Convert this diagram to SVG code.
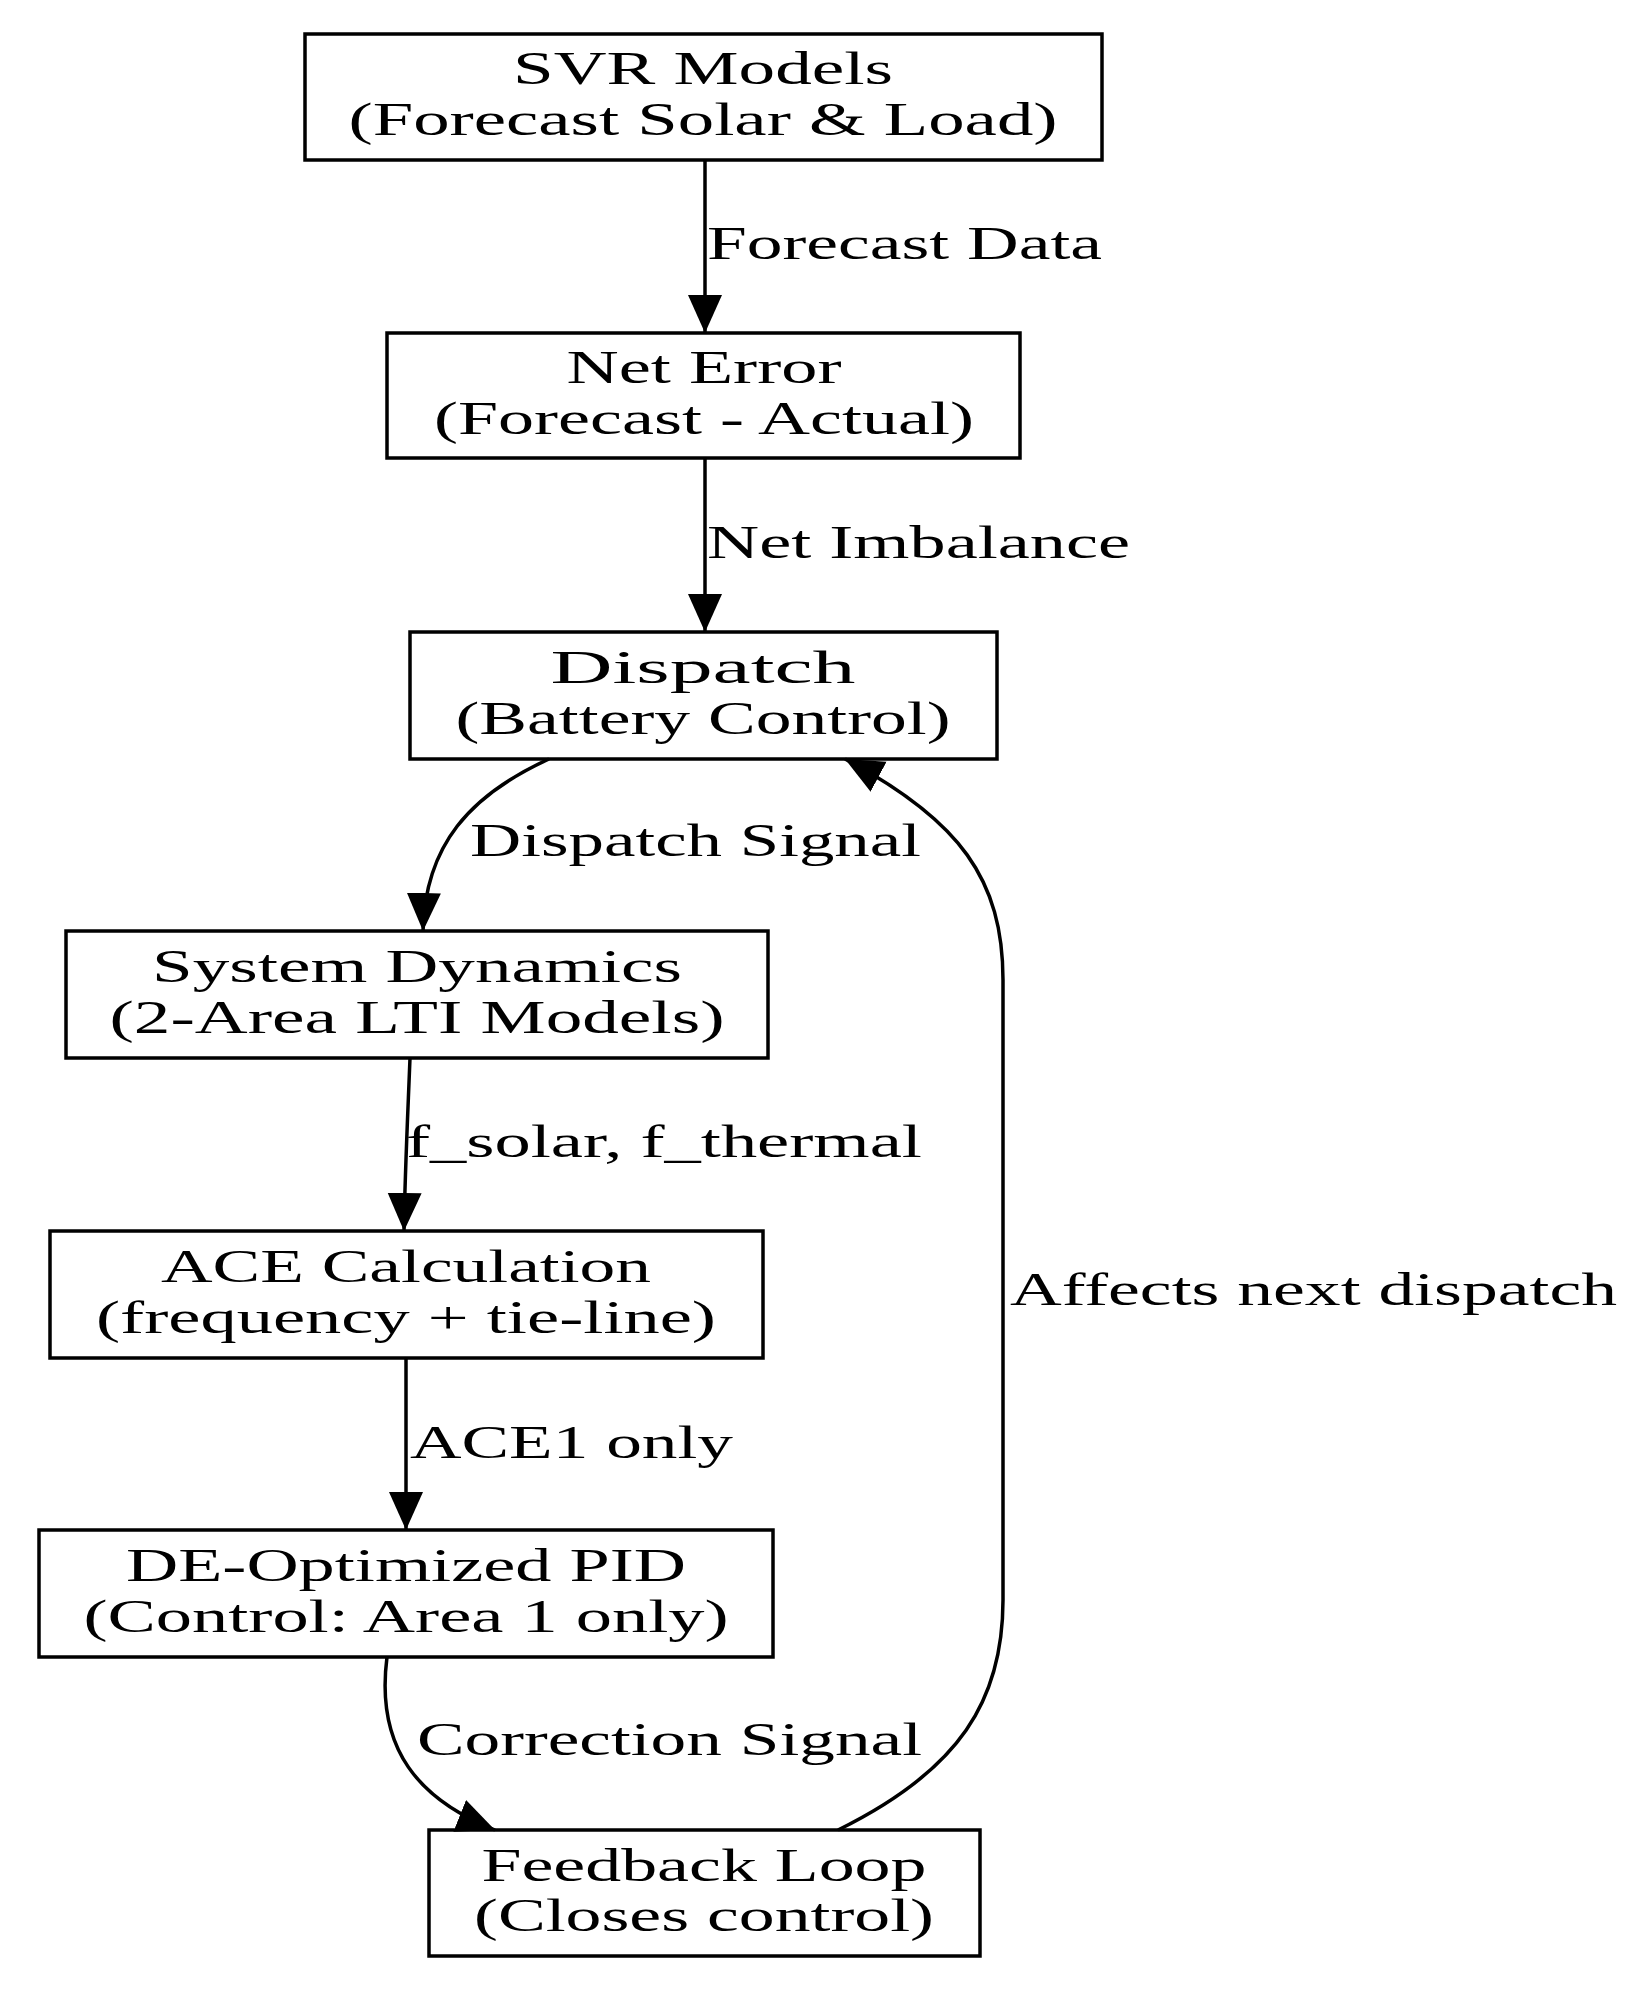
<svg xmlns="http://www.w3.org/2000/svg" width="1651" height="1993" viewBox="0 0 1651 1993">
<style>
.box{fill:#fff;stroke:#000;stroke-width:3.5}
.t{font-family:"Liberation Serif","Times New Roman",serif;font-size:46px;fill:#000;text-anchor:middle}
.l{font-family:"Liberation Serif","Times New Roman",serif;font-size:46px;fill:#000}
.e{fill:none;stroke:#000;stroke-width:3.5}
</style>
<defs>
<marker id="ah" markerUnits="userSpaceOnUse" markerWidth="40" markerHeight="40" viewBox="0 0 40 34" refX="38" refY="17" orient="auto">
<path d="M0,0 L38,17 L0,34 Z" fill="#000"/>
</marker>
</defs>
<rect width="1651" height="1993" fill="#fff"/>
<g id="svr"><rect class="box" x="305" y="34" width="797" height="126"/>
<text class="t" x="703" y="84" textLength="380" lengthAdjust="spacingAndGlyphs">SVR Models</text>
<text class="t" x="703" y="135" textLength="709" lengthAdjust="spacingAndGlyphs">(Forecast Solar &amp; Load)</text></g>
<g id="net"><rect class="box" x="387" y="333" width="633" height="125"/>
<text class="t" x="704" y="383" textLength="275" lengthAdjust="spacingAndGlyphs">Net Error</text>
<text class="t" x="704" y="434" textLength="540" lengthAdjust="spacingAndGlyphs">(Forecast - Actual)</text></g>
<g id="dispatch"><rect class="box" x="410" y="632" width="587" height="127"/>
<text class="t" x="703" y="683" textLength="305" lengthAdjust="spacingAndGlyphs">Dispatch</text>
<text class="t" x="703" y="734" textLength="495" lengthAdjust="spacingAndGlyphs">(Battery Control)</text></g>
<g id="sysdyn"><rect class="box" x="66" y="931" width="702" height="127"/>
<text class="t" x="417" y="982" textLength="530" lengthAdjust="spacingAndGlyphs">System Dynamics</text>
<text class="t" x="417" y="1033" textLength="615" lengthAdjust="spacingAndGlyphs">(2-Area LTI Models)</text></g>
<g id="ace"><rect class="box" x="50" y="1231" width="713" height="127"/>
<text class="t" x="406" y="1282" textLength="490" lengthAdjust="spacingAndGlyphs">ACE Calculation</text>
<text class="t" x="406" y="1333" textLength="620" lengthAdjust="spacingAndGlyphs">(frequency + tie-line)</text></g>
<g id="pid"><rect class="box" x="39" y="1530" width="734" height="127"/>
<text class="t" x="406" y="1581" textLength="560" lengthAdjust="spacingAndGlyphs">DE-Optimized PID</text>
<text class="t" x="406" y="1632" textLength="645" lengthAdjust="spacingAndGlyphs">(Control: Area 1 only)</text></g>
<g id="feedback"><rect class="box" x="429" y="1830" width="551" height="126"/>
<text class="t" x="704" y="1881" textLength="445" lengthAdjust="spacingAndGlyphs">Feedback Loop</text>
<text class="t" x="704" y="1931" textLength="460" lengthAdjust="spacingAndGlyphs">(Closes control)</text></g>
<g id="edges">
<path class="e" d="M705,160 V333" marker-end="url(#ah)"/>
<text class="l" x="707" y="259" textLength="395" lengthAdjust="spacingAndGlyphs">Forecast Data</text>
<path class="e" d="M705,458 V632" marker-end="url(#ah)"/>
<text class="l" x="707" y="558" textLength="423" lengthAdjust="spacingAndGlyphs">Net Imbalance</text>
<path class="e" d="M549,759 C470,795 425,845 423,931" marker-end="url(#ah)"/>
<text class="l" x="470" y="856" textLength="451" lengthAdjust="spacingAndGlyphs">Dispatch Signal</text>
<path class="e" d="M410,1058 C408,1110 405,1170 404,1231" marker-end="url(#ah)"/>
<text class="l" x="406" y="1157" textLength="516" lengthAdjust="spacingAndGlyphs">f_solar, f_thermal</text>
<path class="e" d="M406,1358 V1530" marker-end="url(#ah)"/>
<text class="l" x="410" y="1458" textLength="323" lengthAdjust="spacingAndGlyphs">ACE1 only</text>
<path class="e" d="M387,1657 C375,1750 420,1800 495,1830" marker-end="url(#ah)"/>
<text class="l" x="417" y="1755" textLength="505" lengthAdjust="spacingAndGlyphs">Correction Signal</text>
<path class="e" d="M838,1830 C960,1770 1003,1700 1003,1600 V980 C1003,880 960,820 845,759" marker-end="url(#ah)"/>
<text class="l" x="1010" y="1305" textLength="607" lengthAdjust="spacingAndGlyphs">Affects next dispatch</text>
</g>
</svg>
